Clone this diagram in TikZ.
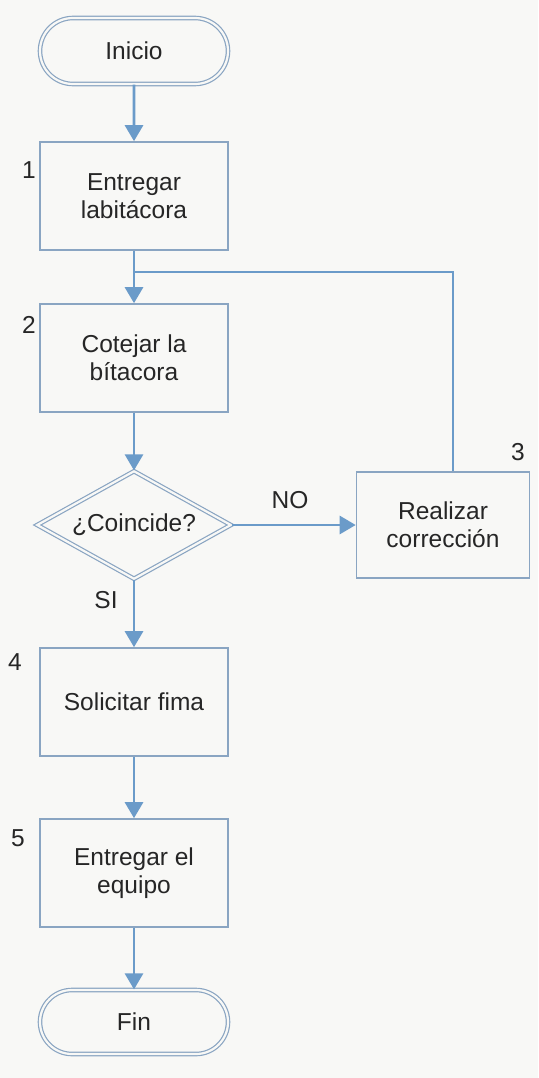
\documentclass[tikz,border=0pt]{standalone}
\usepackage{fontspec}
\setmainfont{Liberation Sans}
\usetikzlibrary{shapes.geometric,shapes.misc,arrows.meta}
\definecolor{boxc}{HTML}{8AA5C2}
\definecolor{linec}{HTML}{6B9BC9}
\definecolor{txt}{HTML}{262626}
\definecolor{paper}{HTML}{F8F8F6}
\begin{document}
\begin{tikzpicture}[x=1pt,y=-1pt,
  every node/.style={font=\fontsize{24.5}{28}\selectfont, text=txt},
  proc/.style={draw=boxc, line width=1.6pt, fill=paper, minimum width=188pt, minimum height=108pt, align=center, inner sep=0pt},
  term/.style={rounded rectangle, draw=boxc, line width=1.2pt, double=paper, double distance=2.2pt, minimum width=188pt, minimum height=66pt, inner sep=0pt},
  dec/.style={diamond, aspect=1.8, draw=boxc, line width=1.2pt, double=paper, double distance=2.2pt, minimum width=194pt, minimum height=108pt, inner sep=0pt},
  flow/.style={draw=linec, line width=2.8pt, -{Triangle[length=16pt,width=18pt]}},
  plainline/.style={draw=linec, line width=2.8pt},
  num/.style={inner sep=0pt}]
\fill[paper] (0,0) rectangle (538,1078);
\useasboundingbox (0,0) rectangle (538,1078);

\node[term] (start) at (134,51) {Inicio};
\node[proc] (b1) at (134,196) {Entregar\\labitácora};
\coordinate (j) at (134,272);
\coordinate (k) at (453,272);
\node[proc] (b2) at (134,358) {Cotejar la\\bítacora};
\node[dec] (d) at (134,525) {¿Coincide?};
\node[proc, minimum width=173pt, minimum height=106pt] (b3) at (443,525) {Realizar\\corrección};
\node[proc] (b4) at (134,702) {Solicitar fima};
\node[proc] (b5) at (134,873) {Entregar el\\equipo};
\node[term, minimum height=64pt] (fin) at (134,1022) {Fin};

\node[num] (n1) at (29,170) {1};
\node[num] (n2) at (29,325) {2};
\node[num] (n3) at (518,452) {3};
\node[num] (n4) at (15,662) {4};
\node[num] (n5) at (18,838) {5};
\node[num] (lno) at (290,500) {NO};
\node[num] (lsi) at (106,600) {SI};

\draw[flow] (start) -- (b1);
\draw[flow] (b1) -- (b2);
\draw[plainline] (b3.north -| k) -- (k) -- (j);
\draw[flow] (b2) -- (d);
\draw[flow] (d.east) -- (b3.west);
\draw[flow] (d.south) -- (b4.north);
\draw[flow] (b4) -- (b5);
\draw[flow] (b5) -- (fin);
\end{tikzpicture}
\end{document}
